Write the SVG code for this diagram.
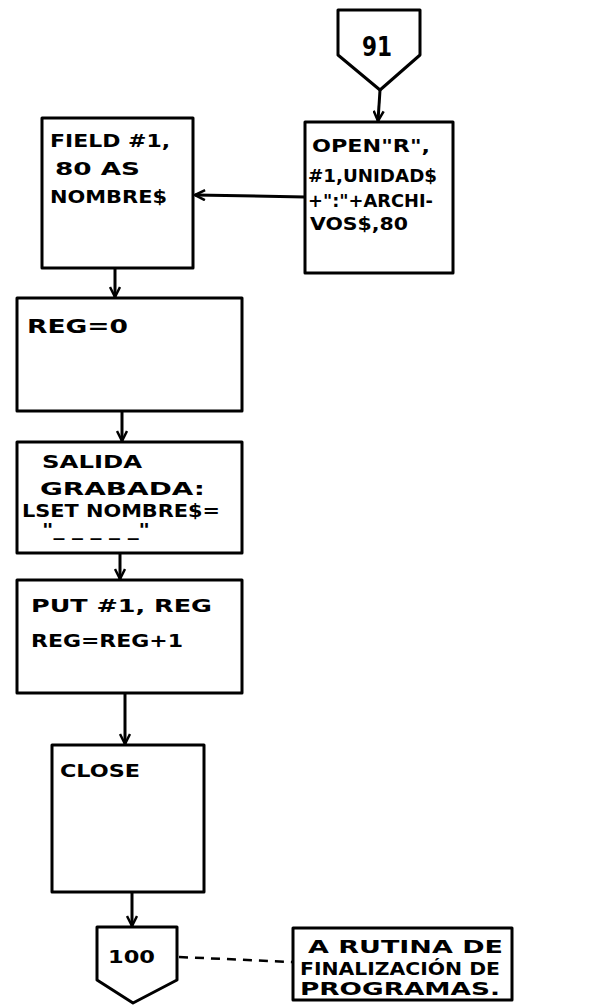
<svg xmlns="http://www.w3.org/2000/svg" width="593" height="1006" viewBox="0 0 593 1006">
<style>
.box{fill:#fff;stroke:#000;stroke-width:3;stroke-linejoin:round}
.t{font-family:"DejaVu Sans","Liberation Sans",sans-serif;font-weight:bold;font-size:17px;fill:#000}
.c{fill:none;stroke:#000;stroke-width:3}
.d{fill:none;stroke:#000;stroke-width:2.5;stroke-dasharray:9 7}
</style>
<defs>
<marker id="ah" viewBox="0 0 12 12" refX="11" refY="6" markerWidth="12" markerHeight="12" markerUnits="userSpaceOnUse" orient="auto">
<path d="M1,1 L11,6 L1,11" fill="none" stroke="#000" stroke-width="2.5"/>
</marker>
</defs>
<rect width="593" height="1006" fill="#fff"/>
<g id="connectors">
<line class="c" x1="380" y1="90" x2="378" y2="121" marker-end="url(#ah)"/>
<line class="c" x1="305" y1="197" x2="195" y2="195" marker-end="url(#ah)"/>
<line class="c" x1="115" y1="268" x2="115" y2="297" marker-end="url(#ah)"/>
<line class="c" x1="122" y1="411" x2="122" y2="441" marker-end="url(#ah)"/>
<line class="c" x1="120" y1="553" x2="120" y2="579" marker-end="url(#ah)"/>
<line class="c" x1="125" y1="693" x2="125" y2="744" marker-end="url(#ah)"/>
<line class="c" x1="132" y1="892" x2="132" y2="926" marker-end="url(#ah)"/>
<line class="d" x1="179" y1="957" x2="292" y2="962"/>
</g>
<g id="n91">
<path class="box" d="M338,10 L420,10 L420,55 L380,90 L338,55 Z"/>
<text class="t" x="362" y="56" textLength="30" lengthAdjust="spacingAndGlyphs" style="font-size:26px">91</text>
</g>
<g id="open">
<rect class="box" x="305" y="122" width="148" height="151"/>
<text class="t" x="312" y="152" textLength="118" lengthAdjust="spacingAndGlyphs">OPEN"R",</text>
<text class="t" x="308" y="182" textLength="129" lengthAdjust="spacingAndGlyphs">#1,UNIDAD$</text>
<text class="t" x="308" y="207" textLength="125" lengthAdjust="spacingAndGlyphs">+":"+ARCHI-</text>
<text class="t" x="310" y="230" textLength="98" lengthAdjust="spacingAndGlyphs">VOS$,80</text>
</g>
<g id="field">
<rect class="box" x="42" y="118" width="151" height="150"/>
<text class="t" x="50" y="147" textLength="120" lengthAdjust="spacingAndGlyphs">FIELD #1,</text>
<text class="t" x="55" y="175" textLength="85" lengthAdjust="spacingAndGlyphs">80 AS</text>
<text class="t" x="50" y="203" textLength="117" lengthAdjust="spacingAndGlyphs">NOMBRE$</text>
</g>
<g id="reg">
<rect class="box" x="17" y="298" width="225" height="113"/>
<text class="t" x="27" y="333" textLength="101" lengthAdjust="spacingAndGlyphs" style="font-size:20px">REG=0</text>
</g>
<g id="salida">
<rect class="box" x="17" y="442" width="225" height="111"/>
<text class="t" x="42" y="468" textLength="100" lengthAdjust="spacingAndGlyphs">SALIDA</text>
<text class="t" x="40" y="495" textLength="165" lengthAdjust="spacingAndGlyphs">GRABADA:</text>
<text class="t" x="22" y="517" textLength="198" lengthAdjust="spacingAndGlyphs">LSET NOMBRE$=</text>
<text class="t" x="42" y="536" textLength="108" lengthAdjust="spacingAndGlyphs">"_ _ _ _ _"</text>
</g>
<g id="put">
<rect class="box" x="17" y="580" width="225" height="113"/>
<text class="t" x="31" y="612" textLength="181" lengthAdjust="spacingAndGlyphs">PUT #1, REG</text>
<text class="t" x="31" y="647" textLength="152" lengthAdjust="spacingAndGlyphs">REG=REG+1</text>
</g>
<g id="close">
<rect class="box" x="52" y="745" width="152" height="147"/>
<text class="t" x="60" y="777" textLength="80" lengthAdjust="spacingAndGlyphs">CLOSE</text>
</g>
<g id="n100">
<path class="box" d="M97,927 L177,927 L177,980 L133,1003 L97,980 Z"/>
<text class="t" x="108" y="963" textLength="47" lengthAdjust="spacingAndGlyphs">100</text>
</g>
<g id="note">
<rect class="box" x="293" y="928" width="219" height="72"/>
<text class="t" x="308" y="953" textLength="195" lengthAdjust="spacingAndGlyphs">A RUTINA DE</text>
<text class="t" x="300" y="975" textLength="200" lengthAdjust="spacingAndGlyphs">FINALIZACIÓN DE</text>
<text class="t" x="300" y="995" textLength="200" lengthAdjust="spacingAndGlyphs">PROGRAMAS.</text>
</g>
</svg>
